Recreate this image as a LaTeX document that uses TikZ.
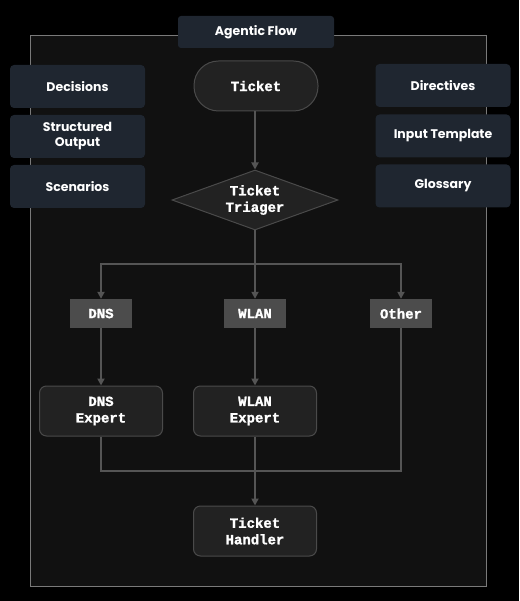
\documentclass[tikz,border=0pt]{standalone}
\usepackage{fontspec}
\usepackage{tikz}
\usetikzlibrary{shapes.geometric,arrows.meta,positioning}
\newfontfamily\flowsans{Poppins}[BoldFont={Poppins Bold}]
\newfontfamily\flowmono{Liberation Mono}[BoldFont={Liberation Mono Bold},BoldFeatures={FakeBold=1.5}]

\definecolor{pagebg}{HTML}{000000}
\definecolor{framebg}{HTML}{111111}
\definecolor{frameline}{HTML}{7A7A7A}
\definecolor{infobg}{HTML}{1F2630}
\definecolor{stepbg}{HTML}{222222}
\definecolor{stepline}{HTML}{4A4A4A}
\definecolor{branchbg}{HTML}{4C4C4C}
\definecolor{wire}{HTML}{555555}

\tikzset{
  infobox/.style={fill=infobg, rounded corners=4pt, minimum width=135pt,
    minimum height=43pt, inner sep=2pt, align=center, text=white,
    font=\flowsans\bfseries\fontsize{12.5}{15}\selectfont},
  stepbox/.style={fill=stepbg, draw=stepline, line width=1pt, rounded corners=7pt,
    minimum width=123pt, minimum height=50pt, inner sep=2pt, align=center,
    text=white, font=\flowmono\bfseries\fontsize{14}{16.5}\selectfont},
  branchbox/.style={fill=branchbg, minimum width=62pt, minimum height=29pt,
    inner sep=0pt, text=white, font=\flowmono\bfseries\fontsize{14}{16.5}\selectfont},
  wireline/.style={draw=wire, line width=2pt},
  flowarrow/.style={wireline, -{Triangle[length=7pt,width=7pt]}},
}

\begin{document}
\begin{tikzpicture}[x=1pt, y=-1pt]
  \useasboundingbox[fill=pagebg] (0,0) rectangle (519,601);
  \draw[fill=framebg, draw=frameline, line width=1pt] (30,36) rectangle (486,586);

  \node[infobox, minimum width=156pt, minimum height=32pt, rounded corners=3pt] (title) at (256,32) {Agentic Flow};

  % side boxes
  \node[infobox] (decisions) at (77.5,86.5) {Decisions};
  \node[infobox] (structured) at (77.5,136.5) {Structured\\Output};
  \node[infobox] (scenarios) at (77.5,186.5) {Scenarios};
  \node[infobox] (directives) at (443,85.5) {Directives};
  \node[infobox] (template) at (443,136) {Input Template};
  \node[infobox] (glossary) at (443,186) {Glossary};

  % main flow
  \node[stepbox, minimum width=124pt, rounded corners=24.5pt] (ticket) at (256,86) {Ticket};
  \node[diamond, fill=stepbg, draw=stepline, line width=1pt, aspect=2.77,
    minimum width=166pt, minimum height=60pt, inner sep=0pt, align=center,
    text=white, font=\flowmono\bfseries\fontsize{14}{16.5}\selectfont] (triager) at (255,200) {Ticket\\Triager};

  \node[branchbox] (dns) at (101,313.5) {DNS};
  \node[branchbox] (wlan) at (255,313.5) {WLAN};
  \node[branchbox] (other) at (401,313.5) {Other};

  \node[stepbox] (dnsexpert) at (101,411) {DNS\\Expert};
  \node[stepbox] (wlanexpert) at (255,411) {WLAN\\Expert};
  \node[stepbox] (handler) at (255,531) {Ticket\\Handler};

  \coordinate (split) at (255,264);
  \coordinate (join) at (255,471);

  \draw[flowarrow] (ticket.south -| triager.north) -- (triager.north);
  \draw[wireline] (triager.south) -- (split);
  \draw[flowarrow] (split) -| (dns.north);
  \draw[flowarrow] (split) -- (wlan.north);
  \draw[flowarrow] (split) -| (other.north);
  \draw[flowarrow] (dns) -- (dnsexpert);
  \draw[flowarrow] (wlan) -- (wlanexpert);
  \draw[wireline] (dnsexpert.south) |- (join);
  \draw[wireline] (other.south) |- (join);
  \draw[flowarrow] (wlanexpert) -- (handler);
\end{tikzpicture}
\end{document}
